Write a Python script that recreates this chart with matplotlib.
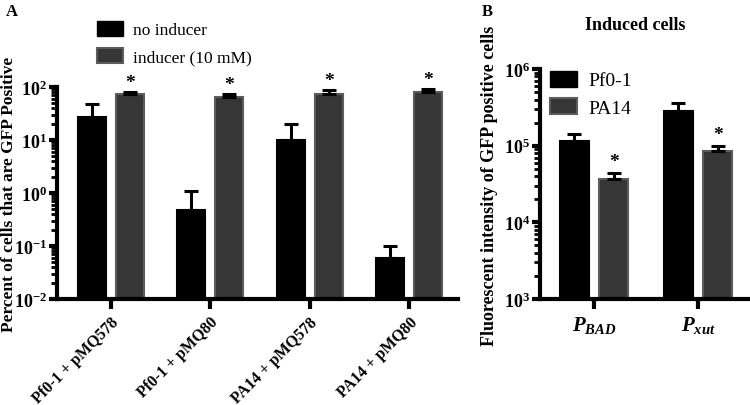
import numpy as np
import matplotlib.pyplot as plt
from matplotlib.patches import Patch
from matplotlib.ticker import LogLocator, NullFormatter

plt.rcParams['font.family'] = ['Liberation Serif', 'DejaVu Serif']
plt.rcParams['mathtext.fontset'] = 'custom'
plt.rcParams['mathtext.rm'] = 'Liberation Serif:weight=bold'
plt.rcParams['mathtext.it'] = 'Liberation Serif:style=italic:weight=bold'
plt.rcParams['mathtext.bf'] = 'Liberation Serif:weight=bold'

# panel A: percent of GFP positive cells
strains_a = ['Pf0-1 + pMQ578', 'Pf0-1 + pMQ80', 'PA14 + pMQ578', 'PA14 + pMQ80']
no_inducer = [27, 0.47, 10, 0.059]
no_inducer_err = [48, 1.1, 20, 0.1]
inducer = [74, 65, 74, 82]
inducer_err = [80, 74, 88, 92]
ticks_a = [1e-2, 1e-1, 1, 10, 100]
tick_labels_a = [r'$\mathbf{10^{-2}}$', r'$\mathbf{10^{-1}}$', r'$\mathbf{10^{0}}$',
                 r'$\mathbf{10^{1}}$', r'$\mathbf{10^{2}}$']

# panel B: fluorescent intensity of induced cells
promoters = ['$P_{BAD}$', '$P_{xut}$']
pf01 = [1.16e5, 2.8e5]
pf01_err = [1.43e5, 3.6e5]
pa14 = [3.7e4, 8.4e4]
pa14_err = [4.4e4, 1.0e5]
ticks_b = [1e3, 1e4, 1e5, 1e6]
tick_labels_b = [r'$\mathbf{10^{3}}$', r'$\mathbf{10^{4}}$', r'$\mathbf{10^{5}}$', r'$\mathbf{10^{6}}$']

BLACK = '#000000'
GREY = '#363636'
GREY_EDGE = '#5c5c5c'


def style_axis(ax):
    for side in ['top', 'right']:
        ax.spines[side].set_visible(False)
    for side in ['left', 'bottom']:
        ax.spines[side].set_linewidth(3)
    ax.tick_params(axis='y', which='major', length=6, width=3, labelsize=13, pad=1)
    ax.tick_params(axis='y', which='minor', length=4, width=2)
    ax.tick_params(axis='x', which='major', length=7, width=3)
    ax.yaxis.set_minor_locator(LogLocator(base=10, subs=np.arange(2, 10)))
    ax.yaxis.set_minor_formatter(NullFormatter())


def bars(ax, x, vals, errs, off, w, color, edge, ymin):
    vals = np.array(vals)
    errs = np.array(errs)
    ax.bar(x + off, vals - ymin, width=w, bottom=ymin, color=color,
           edgecolor=edge, linewidth=1.5)
    ax.errorbar(x + off, vals, yerr=[np.zeros_like(vals), errs - vals], fmt='none',
                ecolor='black', elinewidth=2.2, capsize=5, capthick=2.2)


fig = plt.figure(figsize=(7.5, 4.06), dpi=100)

# ---- A ----
axA = fig.add_axes([57 / 750, 1 - 300 / 406, 401 / 750, 212 / 406])
xa = np.arange(len(strains_a))
bars(axA, xa, no_inducer, no_inducer_err, -0.19, 0.28, BLACK, BLACK, 1e-2)
bars(axA, xa, inducer, inducer_err, 0.19, 0.28, GREY, GREY_EDGE, 1e-2)
for xi, e in zip(xa, inducer_err):
    axA.text(xi + 0.19, e * 1.05, '*', ha='center', va='bottom', fontsize=14, fontweight='bold')
axA.set_yscale('log')
axA.set_ylim(1e-2, 1e2)
axA.set_xlim(-0.54, 3.49)
axA.set_yticks(ticks_a)
axA.set_yticklabels(tick_labels_a)
axA.set_xticks(xa)
axA.set_xticklabels(strains_a, rotation=45, ha='right', rotation_mode='anchor',
                    fontsize=11.5, fontweight='bold')
style_axis(axA)
axA.legend(handles=[Patch(facecolor=BLACK, edgecolor=BLACK, label='no inducer'),
                    Patch(facecolor=GREY, edgecolor=GREY_EDGE, linewidth=1.5, label='inducer (10 mM)')],
           loc='upper left', bbox_to_anchor=(97 / 750, 1 - 22 / 406), bbox_transform=fig.transFigure,
           frameon=False, fontsize=12.5, handlelength=1.5, handleheight=0.95,
           handletextpad=0.6, labelspacing=0.55, borderpad=0, borderaxespad=0)
fig.text(9 / 750, 1 - 194 / 406, 'Percent of cells that are GFP Positive', rotation=90,
         ha='center', va='center', fontsize=12.5, fontweight='bold')
fig.text(6 / 750, 1 - 12 / 406, 'A', fontsize=12, fontweight='bold', va='center')

# ---- B ----
axB = fig.add_axes([540 / 750, 1 - 300 / 406, 210 / 750, 230 / 406])
xb = np.arange(len(promoters))
bars(axB, xb, pf01, pf01_err, -0.19, 0.28, BLACK, BLACK, 1e3)
bars(axB, xb, pa14, pa14_err, 0.19, 0.28, GREY, GREY_EDGE, 1e3)
for xi, e in zip(xb, pa14_err):
    axB.text(xi + 0.19, e * 1.08, '*', ha='center', va='bottom', fontsize=14, fontweight='bold')
axB.set_yscale('log')
axB.set_ylim(1e3, 1e6)
axB.set_xlim(-0.52, 1.5)
axB.set_yticks(ticks_b)
axB.set_yticklabels(tick_labels_b)
axB.set_xticks(xb)
axB.set_xticklabels(promoters, fontsize=15)
style_axis(axB)
axB.legend(handles=[Patch(facecolor=BLACK, edgecolor=BLACK, label='Pf0-1'),
                    Patch(facecolor=GREY, edgecolor=GREY_EDGE, linewidth=1.5, label='PA14')],
           loc='upper left', bbox_to_anchor=(550 / 750, 1 - 72 / 406), bbox_transform=fig.transFigure,
           frameon=False, fontsize=14, handlelength=1.4, handleheight=0.85,
           handletextpad=0.55, labelspacing=0.45, borderpad=0, borderaxespad=0)
fig.text(635 / 750, 1 - 25 / 406, 'Induced cells', ha='center', va='center',
         fontsize=13, fontweight='bold')
fig.text(490 / 750, 1 - 186 / 406, 'Fluorescent intensity of GFP positive cells', rotation=90,
         ha='center', va='center', fontsize=13, fontweight='bold')
fig.text(482 / 750, 1 - 12 / 406, 'B', fontsize=12, fontweight='bold', va='center')

fig.savefig('out.png', dpi=100)
